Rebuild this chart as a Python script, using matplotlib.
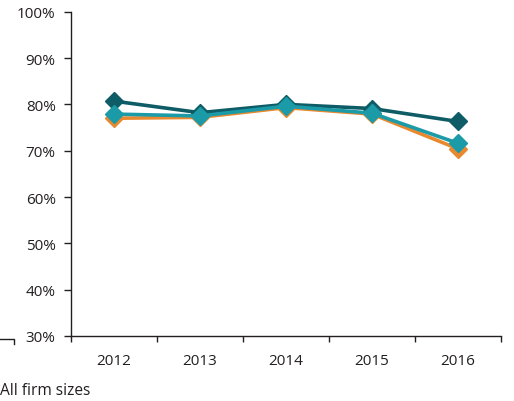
import matplotlib
matplotlib.use("Agg")
import matplotlib.pyplot as plt
from matplotlib.lines import Line2D

years = ["2012", "2013", "2014", "2015", "2016"]
series_dark = [80.7, 78.2, 80.0, 79.1, 76.3]
series_orange = [77.0, 77.2, 79.3, 77.9, 70.4]
series_teal = [77.9, 77.5, 79.6, 78.1, 71.6]
y_ticks = [30, 40, 50, 60, 70, 80, 90, 100]
caption = "All firm sizes"

plt.rcParams["font.family"] = ["Open Sans", "DejaVu Sans"]

fig = plt.figure(figsize=(5.14, 4.02), dpi=100)
ax = fig.add_axes([71 / 514, 1 - 337 / 402, 430 / 514, (337 - 12.7) / 402])

x = [i + 0.5 for i in range(len(years))]
style = dict(marker="D", markersize=9.5, linewidth=2.6, solid_joinstyle="miter")
ax.plot(x, series_dark, color="#0d5c66", zorder=3, **style)
ax.plot(x, series_orange, color="#e8892f", zorder=4, **style)
ax.plot(x, series_teal, color="#1b9ba8", zorder=5, **style)

ax.set_xlim(0, len(years))
ax.set_ylim(30, 100)
ax.set_yticks(y_ticks)
ax.set_yticklabels([f"{v}%" for v in y_ticks])
ax.set_xticks(range(len(years) + 1))
ax.set_xticklabels([])
ax.set_xticks(x, minor=True)
ax.set_xticklabels(years, minor=True)

for side in ("top", "right"):
    ax.spines[side].set_visible(False)
for side in ("left", "bottom"):
    ax.spines[side].set_color("#231f20")
    ax.spines[side].set_linewidth(1.0)

ax.tick_params(axis="y", direction="out", length=5, width=1.0, color="#231f20",
               labelsize=11, labelcolor="#231f20", pad=6)
ax.tick_params(axis="x", which="major", direction="out", length=4, width=1.0, color="#231f20")
ax.tick_params(axis="x", which="minor", length=0, labelsize=11, labelcolor="#231f20", pad=12)

fig.text(0.0, 1 - 391 / 402, caption, fontsize=11.2, color="#231f20", va="center", ha="left")

# small corner bracket at the lower left edge
fig.add_artist(Line2D([0, 14 / 514, 14 / 514], [1 - 339.5 / 402, 1 - 339.5 / 402, 1 - 345 / 402],
                      color="#231f20", linewidth=1.0, transform=fig.transFigure))

fig.savefig("out.png", dpi=100)
